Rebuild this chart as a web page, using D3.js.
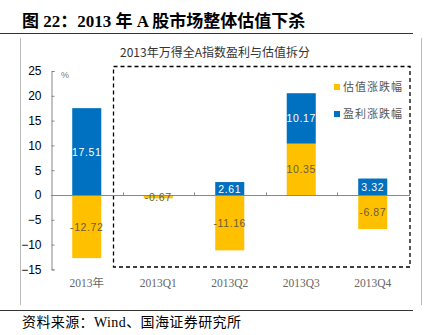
<!DOCTYPE html>
<html><head><meta charset="utf-8">
<script src="https://cdn.jsdelivr.net/npm/d3@7"></script>
<style>body{margin:0;background:#fff}svg{display:block}</style>
</head><body>
<script>
const categories = ["2013年", "2013Q1", "2013Q2", "2013Q3", "2013Q4"];
const valuationChange = [-12.72, -0.67, -11.16, 10.35, -6.87];
const earningsChange = [17.51, 0, 2.61, 10.17, 3.32];
const yTicks = [-15, -10, -5, 0, 5, 10, 15, 20, 25];
const seriesNames = ["估值涨跌幅", "盈利涨跌幅"];
const colors = ["#FFC000", "#0070C0"];

const W = 429, H = 335;
const svg = d3.select("body").append("svg").attr("width", W).attr("height", H);

// Header
svg.append("text").attr("x", 22).attr("y", 27)
  .attr("font-family", "'Liberation Serif','Noto Sans CJK SC',serif")
  .attr("font-weight", "bold").attr("font-size", 17).attr("fill", "#000")
  .text("图 22：2013 年 A 股市场整体估值下杀");
svg.append("line").attr("x1", 0).attr("x2", 413).attr("y1", 33.5).attr("y2", 33.5)
  .attr("stroke", "#333").attr("stroke-width", 1.2);
// Frame
svg.append("line").attr("x1", 20.5).attr("x2", 20.5).attr("y1", 38).attr("y2", 305).attr("stroke", "#bbb");
svg.append("line").attr("x1", 421.5).attr("x2", 421.5).attr("y1", 38).attr("y2", 305).attr("stroke", "#bbb");
svg.append("line").attr("x1", 0).attr("x2", 413).attr("y1", 310.5).attr("y2", 310.5)
  .attr("stroke", "#333").attr("stroke-width", 1.2);
svg.append("text").attr("x", 22).attr("y", 327)
  .attr("font-family", "'Liberation Serif','Noto Sans CJK SC',serif")
  .attr("font-size", 14).attr("fill", "#000").attr("letter-spacing", 0.4)
  .text("资料来源：Wind、国海证券研究所");

// Chart title
svg.append("text").attr("x", 215).attr("y", 57).attr("text-anchor", "middle")
  .attr("font-family", "'Noto Sans CJK SC',sans-serif").attr("font-size", 12).attr("fill", "#333")
  .text("2013年万得全A指数盈利与估值拆分");

const x = d3.scaleBand().domain(categories).range([51, 408.5]).paddingInner(0.594).paddingOuter(0.297);
const y = d3.scaleLinear().domain([-15, 25]).range([269.4, 71]);

// Dashed box
svg.append("rect").attr("x", 113.5).attr("y", 66.5).attr("width", 296.5).attr("height", 200.5)
  .attr("fill", "none").attr("stroke", "#000").attr("stroke-width", 1.3).attr("stroke-dasharray", "4,3");

// Data table & stack
const table = categories.map((c, i) => ({cat: c, val: valuationChange[i], earn: earningsChange[i]}));
const keys = ["val", "earn"];
const stack = d3.stack().keys(keys).offset(d3.stackOffsetDiverging);
const layers = stack(table);

layers.forEach((layer, li) => {
  svg.append("g").selectAll("rect").data(layer.filter(d => d[1] - d[0] !== 0)).join("rect")
    .attr("x", d => x(d.data.cat)).attr("width", x.bandwidth())
    .attr("y", d => y(Math.max(d[0], d[1])))
    .attr("height", d => Math.abs(y(d[0]) - y(d[1])))
    .attr("fill", colors[li]);
});

// Y axis
const yAxis = d3.axisLeft(y).tickValues(yTicks).tickSize(-3).tickPadding(10).tickFormat(d3.format("d"));
const gy = svg.append("g").attr("transform", "translate(51.5,0)").call(yAxis);
gy.select(".domain").attr("stroke", "#888");
gy.selectAll(".tick line").attr("stroke", "#888");
gy.selectAll("text").attr("font-family", "'Liberation Sans',Arial,sans-serif").attr("font-size", 12).attr("fill", "#000");
svg.append("text").attr("x", 61).attr("y", 78).attr("font-family", "'Liberation Sans',sans-serif")
  .attr("font-size", 9).attr("fill", "#777").text("%");

// Zero line with category separators
const gx = svg.append("g").attr("transform", `translate(0,${Math.round(y(0)) + 0.5})`);
gx.append("line").attr("x1", 51).attr("x2", 410).attr("stroke", "#888");
const seps = categories.slice(1).map(c => x(c) - x.step() * x.paddingInner() / 2);
seps.push(408.5);
gx.selectAll(".sep").data(seps).join("line").attr("class", "sep")
  .attr("x1", d => Math.round(d) + 0.5).attr("x2", d => Math.round(d) + 0.5).attr("y1", 0).attr("y2", -3)
  .attr("stroke", "#888");

// X labels
svg.append("g").selectAll("text").data(categories).join("text")
  .attr("x", d => x(d) + x.bandwidth() / 2).attr("y", 287).attr("text-anchor", "middle")
  .attr("font-family", "'Liberation Serif','Noto Sans CJK SC',serif").attr("font-size", 11.5).attr("fill", "#666")
  .text(d => d);

// Value labels
layers.forEach((layer, li) => {
  svg.append("g").selectAll("text").data(layer.filter(d => d[1] - d[0] !== 0)).join("text")
    .attr("x", d => x(d.data.cat) + x.bandwidth() / 2)
    .attr("y", d => y((d[0] + d[1]) / 2) + 4)
    .attr("text-anchor", "middle")
    .attr("font-family", "'Liberation Sans',Arial,sans-serif").attr("font-size", 10.5)
    .attr("letter-spacing", 0.6)
    .attr("fill", li === 1 ? "#fff" : "#6b5e3c")
    .text(d => d3.format(".2f")(d.data[keys[li]]).replace("−", "-"));
});

// Legend
const lg = svg.append("g");
seriesNames.forEach((n, i) => {
  lg.append("rect").attr("x", 334).attr("y", 84 + i * 27).attr("width", 6).attr("height", 6).attr("fill", colors[i]);
  lg.append("text").attr("x", 343).attr("y", 91 + i * 27)
    .attr("font-family", "'Noto Sans CJK SC',sans-serif").attr("font-size", 11).attr("fill", "#555")
    .attr("letter-spacing", 1).text(n);
});
</script>
</body></html>
